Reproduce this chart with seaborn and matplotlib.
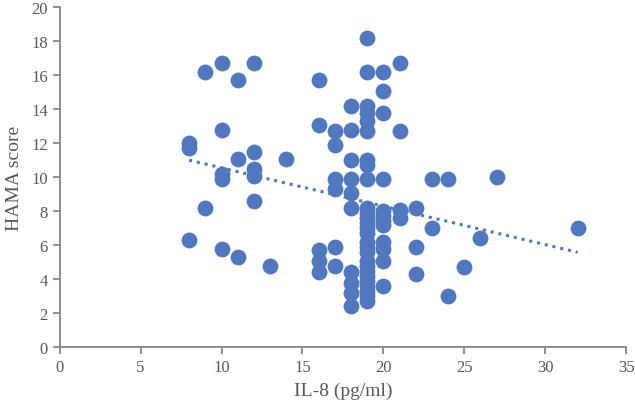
import numpy as np
import pandas as pd
import seaborn as sns
import matplotlib.pyplot as plt

# IL-8 values and HAMA scores
il8 = ([8, 8, 8] + [9, 9] + [10] * 5 + [11] * 3 + [12] * 5 + [13] + [14]
       + [16] * 5 + [17] * 6 + [18] * 10 + [19] * 27 + [20] * 12 + [21] * 4
       + [22] * 3 + [23, 23] + [24, 24] + [25] + [26] + [27] + [32])
hama = ([12.0, 11.7, 6.3]
        + [16.2, 8.2]
        + [16.7, 12.8, 10.2, 9.9, 5.8]
        + [15.7, 11.1, 5.3]
        + [16.7, 11.5, 10.5, 10.1, 8.6]
        + [4.8]
        + [11.1]
        + [15.7, 13.1, 5.7, 5.1, 4.4]
        + [12.7, 11.9, 9.9, 9.3, 5.9, 4.8]
        + [14.2, 12.8, 11.0, 9.9, 9.1, 8.2, 4.4, 3.8, 3.2, 2.4]
        + [18.2, 16.2, 14.2, 13.8, 13.3, 12.7, 11.0, 10.7, 9.9,
           8.2, 7.9, 7.6, 7.3, 7.0, 6.7, 6.2, 5.9, 5.6, 5.1, 4.8,
           4.5, 4.2, 3.9, 3.6, 3.3, 3.0, 2.7]
        + [16.2, 15.1, 13.8, 9.9, 8.0, 7.7, 7.4, 7.2, 6.2, 5.8, 5.1, 3.6]
        + [16.7, 12.7, 8.1, 7.6]
        + [8.2, 5.9, 4.3]
        + [9.9, 7.0]
        + [9.9, 3.0]
        + [4.7]
        + [6.4]
        + [10.0]
        + [7.0])

df = pd.DataFrame({'IL8': il8, 'HAMA': hama})

blue = '#5177BE'
grey = '#868686'
text_grey = '#595959'

sns.set_style('white')
plt.rcParams['font.family'] = ['Liberation Serif', 'DejaVu Serif']

fig = plt.figure(figsize=(6.35, 4.1), dpi=100)
ax = fig.add_axes([0.094, 0.1505, 0.892, 0.8295])

sns.regplot(data=df, x='IL8', y='HAMA', ax=ax, ci=None,
            scatter_kws=dict(s=130, color=blue, alpha=1, linewidths=0),
            line_kws=dict(color=blue, linestyle=(0, (1, 1.6)), linewidth=2.2))

ax.set_xlim(0, 35)
ax.set_ylim(0, 20)
ax.set_xticks(np.arange(0, 36, 5))
ax.set_yticks(np.arange(0, 21, 2))
ax.set_xlabel('IL-8 (pg/ml)', fontsize=14, color=text_grey, labelpad=5)
ax.set_ylabel('HAMA score', fontsize=14, color=text_grey, labelpad=6)

for side in ['top', 'right']:
    ax.spines[side].set_visible(False)
for side in ['left', 'bottom']:
    ax.spines[side].set_color(grey)
    ax.spines[side].set_linewidth(1.3)
ax.tick_params(axis='both', direction='out', length=5, width=1.3, color=grey,
               labelsize=12, labelcolor=text_grey, left=True, bottom=True)

plt.savefig('out.png', dpi=100)
